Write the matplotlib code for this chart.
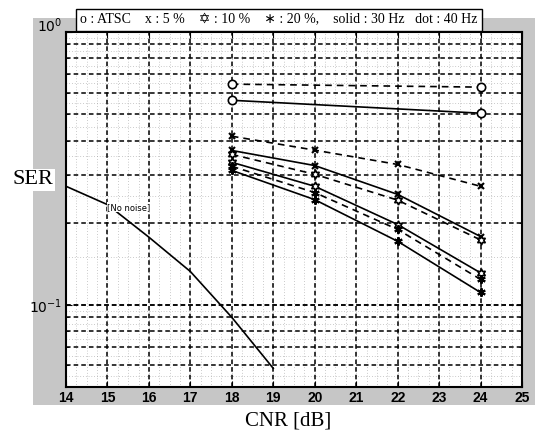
import numpy as np
import matplotlib
matplotlib.use("Agg")
import matplotlib.pyplot as plt
from matplotlib.patches import Rectangle
from matplotlib.transforms import ScaledTranslation

# datos
cnr = [18, 20, 22, 24]
cnr_atsc = [18, 24]
cnr_nonoise = [14, 15, 16, 17, 18, 19]

ser_nonoise = [0.272, 0.233, 0.177, 0.1325, 0.090, 0.0585]
ser_atsc_30 = [0.562, 0.504]
ser_atsc_40 = [0.644, 0.628]
ser_5_30 = [0.368, 0.324, 0.254, 0.178]
ser_5_40 = [0.415, 0.369, 0.327, 0.272]
ser_10_30 = [0.333, 0.272, 0.197, 0.131]
ser_10_40 = [0.356, 0.301, 0.242, 0.173]
ser_20_30 = [0.311, 0.243, 0.171, 0.111]
ser_20_40 = [0.322, 0.258, 0.189, 0.124]

xticks = list(range(14, 26))
legend_txt = "o : ATSC    x : 5 %    \u2721 : 10 %    \u2217 : 20 %,    solid : 30 Hz   dot : 40 Hz"

W, H = 535, 436
fig = plt.figure(figsize=(W / 100, H / 100), dpi=100)
fig.patch.set_facecolor("white")

# fondo gris tipo matlab
fig.patches.append(Rectangle((33 / W, 1 - 405 / H), (W - 33) / W, (405 - 18) / H,
                             transform=fig.transFigure, facecolor="#c6c6c6",
                             edgecolor="none", zorder=-5))

ax = fig.add_axes([66 / W, 1 - 387 / H, (522 - 66) / W, (387 - 32) / H])
ax.set_zorder(1)
ax.set_facecolor("white")
ax.set_yscale("log")
ax.set_xlim(14, 25)
ax.set_ylim(0.05, 1)

# grilla punteada fina
for xv in np.arange(14.25, 25, 0.25):
    ax.axvline(xv, color="#999999", lw=0.5, ls=(0, (1, 3)), zorder=1)
for yv in list(np.arange(0.055, 0.1, 0.01)) + list(np.arange(0.15, 1.0, 0.1)):
    ax.axhline(yv, color="#999999", lw=0.5, ls=(0, (1, 3)), zorder=1)

# grilla de trazos
for xv in xticks[1:-1]:
    ax.axvline(xv, color="k", lw=1.1, ls=(0, (3, 2)), zorder=2)
for yv in list(np.arange(0.06, 0.1, 0.01)) + list(np.arange(0.1, 1.0, 0.1)):
    ax.axhline(yv, color="k", lw=1.1, ls=(0, (3, 2)), zorder=2)

dash = (0, (4, 3))
kw = dict(color="k", lw=1.2, zorder=3)

ax.plot(cnr_nonoise, ser_nonoise, "-", **kw)
ax.text(15.0, 0.228, "[No noise]", fontsize=6, va="center", ha="left",
        bbox=dict(facecolor="white", edgecolor="none", pad=0.3), zorder=4)

ax.plot(cnr_atsc, ser_atsc_30, "-", marker="o", ms=6, mfc="white", mew=1.2, **kw)
ax.plot(cnr_atsc, ser_atsc_40, ls=dash, marker="o", ms=6, mfc="white", mew=1.2, **kw)

ax.plot(cnr, ser_5_30, "-", marker="x", ms=5, mew=1.5, **kw)
ax.plot(cnr, ser_5_40, ls=dash, marker="x", ms=5, mew=1.5, **kw)
ax.plot(cnr, ser_10_30, "-", marker=(6, 1, 0), ms=6.5, mfc="white", mew=1.2, **kw)
ax.plot(cnr, ser_10_40, ls=dash, marker=(6, 1, 0), ms=6.5, mfc="white", mew=1.2, **kw)
ax.plot(cnr, ser_20_30, "-", marker=(6, 2, 0), ms=6, mew=1.5, **kw)
ax.plot(cnr, ser_20_40, ls=dash, marker=(6, 2, 0), ms=6, mew=1.5, **kw)

# ejes
ax.set_xticks(xticks)
ax.set_xticklabels([str(t) for t in xticks], fontsize=10, fontweight="bold",
                   family="Liberation Sans")
ax.set_yticks([0.1, 1])
ax.set_yticklabels([r"$\mathdefault{10^{-1}}$", r"$\mathdefault{10^{0}}$"], fontsize=10)
ax.yaxis.set_minor_formatter(plt.NullFormatter())
ax.tick_params(which="both", direction="in", top=True, right=True, pad=3)
ax.tick_params(which="major", length=4)
ax.tick_params(which="minor", length=2.5)
for s in ax.spines.values():
    s.set_linewidth(1.5)

# la etiqueta 10^0 queda un poco mas arriba en el original
lbl_top = ax.get_yticklabels()[1]
lbl_top.set_transform(lbl_top.get_transform() + ScaledTranslation(0, 0.08, fig.dpi_scale_trans))

fig.text(33 / W, 1 - 180 / H, "SER", family="Liberation Serif", fontsize=16,
         ha="center", va="center",
         bbox=dict(facecolor="white", edgecolor="none", pad=1))
fig.text(288 / W, 1 - 421 / H, "CNR [dB]", family="Liberation Serif",
         fontsize=15, ha="center", va="center")

fig.text(279 / W, 1 - 20 / H, legend_txt, family=["Liberation Serif", "DejaVu Sans"],
         fontsize=10, ha="center", va="center",
         bbox=dict(facecolor="white", edgecolor="k", lw=1.0, pad=3))

fig.savefig("out.png", dpi=100)
